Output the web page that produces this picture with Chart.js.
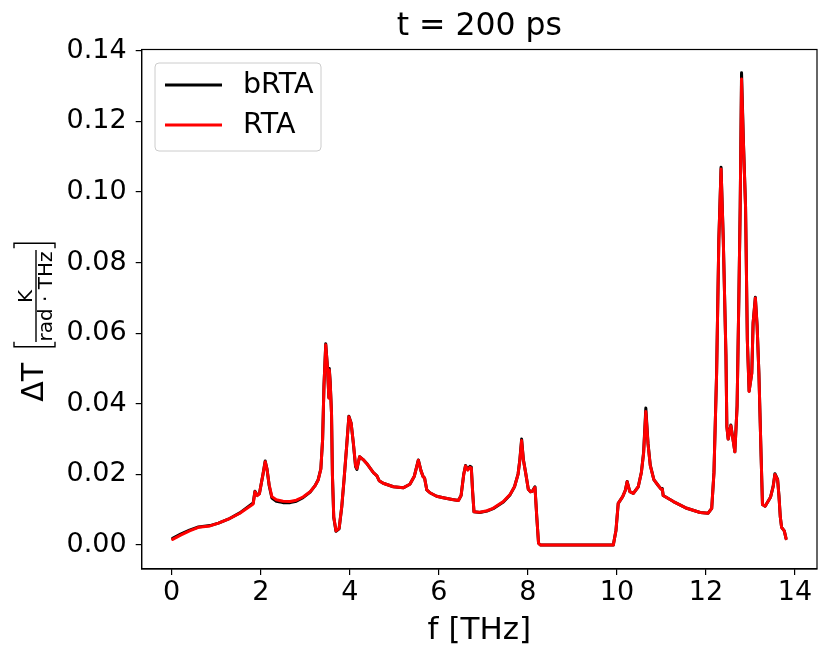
<!DOCTYPE html>
<html><head><meta charset="utf-8">
<script src="https://cdn.jsdelivr.net/npm/chart.js@4.4.1/dist/chart.umd.min.js"></script>
<style>html,body{margin:0;padding:0;background:#fff}#wrap{width:831px;height:662px;position:relative}</style>
</head><body><div id="wrap"><canvas id="c"></canvas></div>
<script>
const freqTHz = [0.02,0.2,0.4,0.6,0.86,1.05,1.27,1.53,1.83,1.87,
1.92,1.97,2.05,2.10,2.14,2.19,2.25,2.35,2.50,2.66,
2.80,2.95,3.11,3.22,3.29,3.35,3.39,3.42,3.46,3.50,
3.53,3.54,3.56,3.59,3.61,3.64,3.69,3.76,3.82,3.87,
3.93,3.98,4.03,4.08,4.13,4.16,4.22,4.30,4.38,4.53,
4.61,4.66,4.75,4.98,5.20,5.35,5.45,5.54,5.60,5.65,
5.68,5.73,5.80,5.95,6.10,6.30,6.44,6.50,6.56,6.60,
6.65,6.70,6.73,6.76,6.79,6.92,7.08,7.22,7.45,7.60,
7.70,7.78,7.82,7.86,7.90,7.95,8.01,8.06,8.10,8.16,
8.20,8.24,8.28,9.00,9.92,9.98,10.03,10.13,10.19,10.23,
10.29,10.37,10.48,10.55,10.60,10.65,10.70,10.75,10.83,10.92,
10.99,11.02,11.04,11.27,11.57,11.87,12.05,12.13,12.18,12.24,
12.29,12.34,12.39,12.45,12.47,12.50,12.56,12.61,12.65,12.70,
12.74,12.77,12.80,12.84,12.89,12.93,12.97,13.03,13.06,13.11,
13.15,13.19,13.24,13.27,13.33,13.45,13.51,13.55,13.61,13.64,
13.67,13.70,13.76,13.80];

const dT_RTA = [0.0016,0.0028,0.0040,0.0050,0.0054,0.0062,0.0073,0.0090,0.0116,0.0151,
0.0140,0.0145,0.0200,0.0236,0.0215,0.0170,0.0137,0.0128,0.0124,0.0123,
0.0127,0.0136,0.0151,0.0168,0.0184,0.0215,0.0300,0.0450,0.0567,0.0500,
0.0416,0.0496,0.0460,0.0373,0.0200,0.0080,0.0040,0.0047,0.0109,0.0184,
0.0280,0.0363,0.0345,0.0290,0.0225,0.0217,0.0250,0.0242,0.0231,0.0205,
0.0196,0.0182,0.0175,0.0165,0.0162,0.0172,0.0195,0.0240,0.0210,0.0193,
0.0190,0.0156,0.0148,0.0138,0.0134,0.0129,0.0126,0.0140,0.0200,0.0224,
0.0212,0.0220,0.0218,0.0150,0.0094,0.0093,0.0097,0.0104,0.0123,0.0143,
0.0165,0.0200,0.0240,0.0296,0.0240,0.0205,0.0158,0.0151,0.0152,0.0163,
0.0080,0.0005,0.0000,0.0000,0.0000,0.0042,0.0118,0.0137,0.0155,0.0179,
0.0151,0.0146,0.0165,0.0205,0.0260,0.0378,0.0285,0.0225,0.0185,0.0170,
0.0158,0.0158,0.0140,0.0123,0.0104,0.0092,0.0090,0.0104,0.0203,0.0486,
0.0864,0.1065,0.0864,0.0534,0.0335,0.0300,0.0338,0.0297,0.0264,0.0392,
0.0700,0.0958,0.1320,0.1147,0.0958,0.0580,0.0435,0.0486,0.0628,0.0700,
0.0620,0.0486,0.0250,0.0115,0.0110,0.0135,0.0165,0.0200,0.0185,0.0140,
0.0080,0.0050,0.0040,0.0018];

const dT_bRTA = [0.0019,0.0031,0.0042,0.0051,0.0055,0.0062,0.0073,0.0091,0.0119,0.0152,
0.0141,0.0146,0.0200,0.0238,0.0216,0.0168,0.0133,0.0124,0.0120,0.0120,
0.0124,0.0134,0.0150,0.0168,0.0185,0.0216,0.0300,0.0452,0.0570,0.0502,
0.0418,0.0500,0.0462,0.0372,0.0198,0.0078,0.0039,0.0046,0.0108,0.0183,
0.0280,0.0365,0.0346,0.0288,0.0222,0.0214,0.0250,0.0242,0.0231,0.0205,
0.0196,0.0182,0.0175,0.0165,0.0162,0.0172,0.0195,0.0241,0.0210,0.0193,
0.0190,0.0156,0.0148,0.0138,0.0134,0.0129,0.0126,0.0140,0.0201,0.0225,
0.0214,0.0223,0.0221,0.0150,0.0094,0.0092,0.0096,0.0103,0.0122,0.0142,
0.0165,0.0201,0.0242,0.0300,0.0242,0.0205,0.0158,0.0151,0.0152,0.0165,
0.0080,0.0005,0.0000,0.0000,0.0000,0.0042,0.0118,0.0137,0.0155,0.0180,
0.0151,0.0146,0.0165,0.0206,0.0262,0.0388,0.0287,0.0226,0.0185,0.0170,
0.0159,0.0160,0.0140,0.0123,0.0104,0.0092,0.0090,0.0104,0.0205,0.0488,
0.0866,0.1070,0.0866,0.0536,0.0336,0.0300,0.0340,0.0298,0.0264,0.0394,
0.0704,0.0962,0.1338,0.1152,0.0960,0.0582,0.0436,0.0487,0.0630,0.0702,
0.0621,0.0486,0.0250,0.0115,0.0110,0.0135,0.0166,0.0202,0.0186,0.0140,
0.0080,0.0050,0.0040,0.0018];

const xTickValues = [0,2,4,6,8,10,12,14];
const yTickValues = [0,0.02,0.04,0.06,0.08,0.10,0.12,0.14];
const seriesNames = ['bRTA','RTA'];
const seriesColors = ['#000000','#ff0000'];
const titleText = 't = 200 ps';
const xLabelText = 'f [THz]';
const yLabelMain = 'ΔT';
const yLabelNum = 'K';
const yLabelDen = 'rad · THz';

const FONT = '"DejaVu Sans", "Liberation Sans", sans-serif';
Chart.defaults.font.family = FONT;
Chart.defaults.color = '#000';

const decorPlugin = {
  id: 'decor',
  afterDraw(chart) {
    const ctx = chart.ctx;
    const a = chart.chartArea;
    ctx.save();
    // frame (spines)
    ctx.strokeStyle = '#000';
    ctx.lineWidth = 1.2;
    ctx.strokeRect(a.left, a.top, a.right - a.left, a.bottom - a.top);

    // legend
    const lx = 155, ly = 63, lw = 166, lh = 88;
    ctx.beginPath();
    ctx.roundRect(lx, ly, lw, lh, 4);
    ctx.fillStyle = 'rgba(255,255,255,0.8)';
    ctx.fill();
    ctx.strokeStyle = '#cccccc';
    ctx.lineWidth = 1;
    ctx.stroke();
    const rows = [85, 125];
    ctx.font = '28.5px ' + FONT;
    ctx.textAlign = 'left';
    ctx.textBaseline = 'middle';
    seriesNames.forEach((name, i) => {
      ctx.beginPath();
      ctx.strokeStyle = seriesColors[i];
      ctx.lineWidth = 3;
      ctx.moveTo(165, rows[i]);
      ctx.lineTo(222, rows[i]);
      ctx.stroke();
      ctx.fillStyle = '#000';
      ctx.fillText(name, 243, rows[i] + 1);
    });

    // y-axis label (rotated)
    ctx.rotate(-Math.PI / 2);
    ctx.fillStyle = '#000';
    ctx.strokeStyle = '#000';
    ctx.font = '30px ' + FONT;
    ctx.textAlign = 'left';
    ctx.textBaseline = 'alphabetic';
    ctx.fillText(yLabelMain, -401.7, 42.7);
    ctx.lineWidth = 1.4;
    ctx.beginPath();
    ctx.moveTo(-346.7 + 5, 14); ctx.lineTo(-346.7, 14); ctx.lineTo(-346.7, 55); ctx.lineTo(-346.7 + 5, 55);
    ctx.moveTo(-243.3 - 5, 14); ctx.lineTo(-243.3, 14); ctx.lineTo(-243.3, 55); ctx.lineTo(-243.3 - 5, 55);
    ctx.stroke();
    ctx.beginPath();
    ctx.moveTo(-342, 36); ctx.lineTo(-250, 36);
    ctx.stroke();
    ctx.font = '20px ' + FONT;
    ctx.textAlign = 'center';
    ctx.fillText(yLabelNum, -296.5, 31.5);
    ctx.fillText(yLabelDen, -296.5, 51.7);
    ctx.restore();
  }
};

const mk = (arr) => freqTHz.map((f, i) => ({ x: f, y: arr[i] }));

new Chart(document.getElementById('c'), {
  type: 'line',
  data: {
    datasets: [
      { label: seriesNames[0], data: mk(dT_bRTA), borderColor: seriesColors[0], borderWidth: 3,
        pointRadius: 0, tension: 0, order: 2, borderJoinStyle: 'round', borderCapStyle: 'round' },
      { label: seriesNames[1], data: mk(dT_RTA), borderColor: seriesColors[1], borderWidth: 3,
        pointRadius: 0, tension: 0, order: 1, borderJoinStyle: 'round', borderCapStyle: 'round' }
    ]
  },
  options: {
    responsive: true,
    maintainAspectRatio: false,
    animation: false,
    events: [],
    layout: { padding: { left: 0, right: 14, top: 0, bottom: 0 } },
    plugins: {
      legend: { display: false },
      tooltip: { enabled: false },
      title: { display: true, fullSize: false, text: titleText, color: '#000',
        font: { size: 31.5, weight: 'normal', family: FONT }, padding: { top: 7.5, bottom: 4.2 } }
    },
    scales: {
      x: {
        type: 'linear', min: -0.674, max: 14.495,
        afterBuildTicks: (s) => { s.ticks = xTickValues.map(v => ({ value: v })); },
        afterFit: (s) => { s.height = 93; },
        ticks: { font: { size: 27, family: FONT }, color: '#000', maxRotation: 0, autoSkip: false,
          padding: 2, callback: (v) => String(v) },
        grid: { drawOnChartArea: false, drawTicks: true, tickLength: 6, color: '#000', lineWidth: 1.2 },
        border: { display: true, color: '#000', width: 1.2 },
        title: { display: true, text: xLabelText, color: '#000', font: { size: 31, family: FONT },
          padding: { top: 0, bottom: 12 } }
      },
      y: {
        type: 'linear', min: -0.0068, max: 0.14037,
        afterBuildTicks: (s) => { s.ticks = yTickValues.map(v => ({ value: v })); },
        afterFit: (s) => { s.width = 141.7; },
        ticks: { font: { size: 27, family: FONT }, color: '#000', autoSkip: false,
          padding: 9, callback: (v) => Number(v).toFixed(2) },
        grid: { drawOnChartArea: false, drawTicks: true, tickLength: 6, color: '#000', lineWidth: 1.2 },
        border: { display: true, color: '#000', width: 1.2 }
      }
    }
  },
  plugins: [decorPlugin]
});
</script>
</body></html>
